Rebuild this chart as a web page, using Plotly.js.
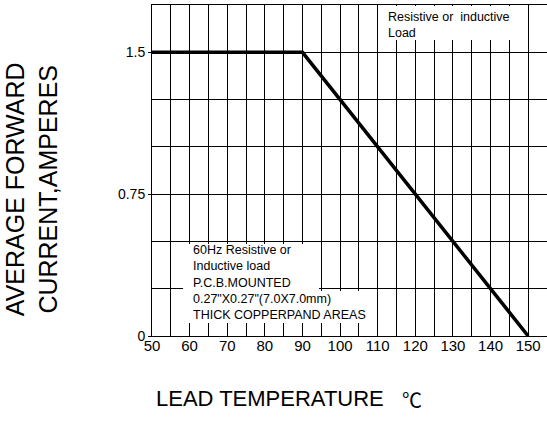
<!DOCTYPE html>
<html>
<head>
<meta charset="utf-8">
<script src="https://cdn.plot.ly/plotly-3.0.1.min.js"></script>
<style>html,body{margin:0;padding:0;background:#fff;}#chart{width:547px;height:426px;}</style>
</head>
<body>
<div id="chart"></div>
<script>
// Derating curve data
const leadTemp = [50, 90, 150];
const avgCurrent = [1.5, 1.5, 0];
const xTickVals = [50, 60, 70, 80, 90, 100, 110, 120, 130, 140, 150];
const xTickText = ['50', '60', '70', '80', '90', '100', '110', '120', '130', '140', '150'];
const yTickVals = [0, 0.75, 1.5];
const yTickText = ['0', '0.75', '1.5'];
const noteTopRight = 'Resistive or  inductive<br>Load';
const noteLowerA = '60Hz Resistive or<br>Inductive load<br>P.C.B.MOUNTED';
const noteLowerB = '0.27"X0.27"(7.0X7.0mm)<br>THICK COPPERPAND AREAS';

const FONT = 'Liberation Sans, Arial, sans-serif';
const NOTE_FONT = {family: FONT, size: 12.5, color: '#000'};

const trace = {
  x: leadTemp, y: avgCurrent, type: 'scatter', mode: 'lines',
  line: {color: '#000', width: 3.5}, hoverinfo: 'skip', showlegend: false
};

const gridStyle = {showgrid: true, gridcolor: '#000', gridwidth: 1};

// white panels behind the notes (paper coordinates)
function panel(x0, x1, y0, y1) {
  return {type: 'rect', xref: 'paper', yref: 'paper', x0: x0, x1: x1, y0: y0, y1: y1,
          fillcolor: '#fff', line: {width: 0}, layer: 'above'};
}

const layout = {
  width: 547, height: 426,
  margin: {l: 152, r: 0, t: 5, b: 90, pad: 0},
  paper_bgcolor: '#fff', plot_bgcolor: '#fff',
  showlegend: false,
  xaxis: {
    range: [50, 155], tickmode: 'array', tickvals: xTickVals, ticktext: xTickText,
    showgrid: true, gridcolor: '#000', gridwidth: 1,
    minor: Object.assign({tick0: 50, dtick: 5, ticks: ''}, gridStyle),
    showline: true, linecolor: '#000', linewidth: 1, mirror: true,
    ticks: '', ticklen: 0, ticklabelstandoff: -4, zeroline: false,
    tickfont: {family: FONT, size: 15, color: '#000'}
  },
  yaxis: {
    range: [0, 1.75], tickmode: 'array', tickvals: yTickVals, ticktext: yTickText,
    showgrid: true, gridcolor: '#000', gridwidth: 1,
    minor: Object.assign({tick0: 0, dtick: 0.25, ticks: ''}, gridStyle),
    showline: true, linecolor: '#000', linewidth: 1, mirror: true,
    ticks: 'outside', ticklen: 3, tickcolor: '#000', zeroline: false,
    tickfont: {family: FONT, size: 14, color: '#000'}
  },
  shapes: [
    panel(0.5797, 0.9494, 0.8943, 0.997),
    panel(0.0785, 0.4228, 0.1299, 0.2779),
    panel(0.0785, 0.5646, 0.0393, 0.1360)
  ],
  annotations: [
    {xref: 'paper', yref: 'paper', x: -0.306, y: 0.444, xanchor: 'center', yanchor: 'middle',
     text: 'AVERAGE FORWARD<br>CURRENT,AMPERES', textangle: -90, showarrow: false,
     font: {family: FONT, size: 25, color: '#000'}, align: 'center'},
    {xref: 'paper', yref: 'paper', x: 0.299, y: -0.19, xanchor: 'center', yanchor: 'middle',
     text: 'LEAD TEMPERATURE', showarrow: false,
     font: {family: FONT, size: 22, color: '#000'}},
    {xref: 'paper', yref: 'paper', x: 0.658, y: -0.193, xanchor: 'center', yanchor: 'middle',
     text: '℃', showarrow: false,
     font: {family: 'Noto Sans CJK SC, sans-serif', size: 20, color: '#000'}},
    {xref: 'paper', yref: 'paper', x: 0.5949, y: 0.989, xanchor: 'left', yanchor: 'top',
     text: noteTopRight, showarrow: false, align: 'left', borderpad: 0, font: NOTE_FONT},
    {xref: 'paper', yref: 'paper', x: 0.1013, y: 0.285, xanchor: 'left', yanchor: 'top',
     text: noteLowerA, showarrow: false, align: 'left', borderpad: 0, font: NOTE_FONT},
    {xref: 'paper', yref: 'paper', x: 0.1013, y: 0.137, xanchor: 'left', yanchor: 'top',
     text: noteLowerB, showarrow: false, align: 'left', borderpad: 0, font: NOTE_FONT}
  ]
};

Plotly.newPlot('chart', [trace], layout, {displayModeBar: false, staticPlot: true});
</script>
</body>
</html>
